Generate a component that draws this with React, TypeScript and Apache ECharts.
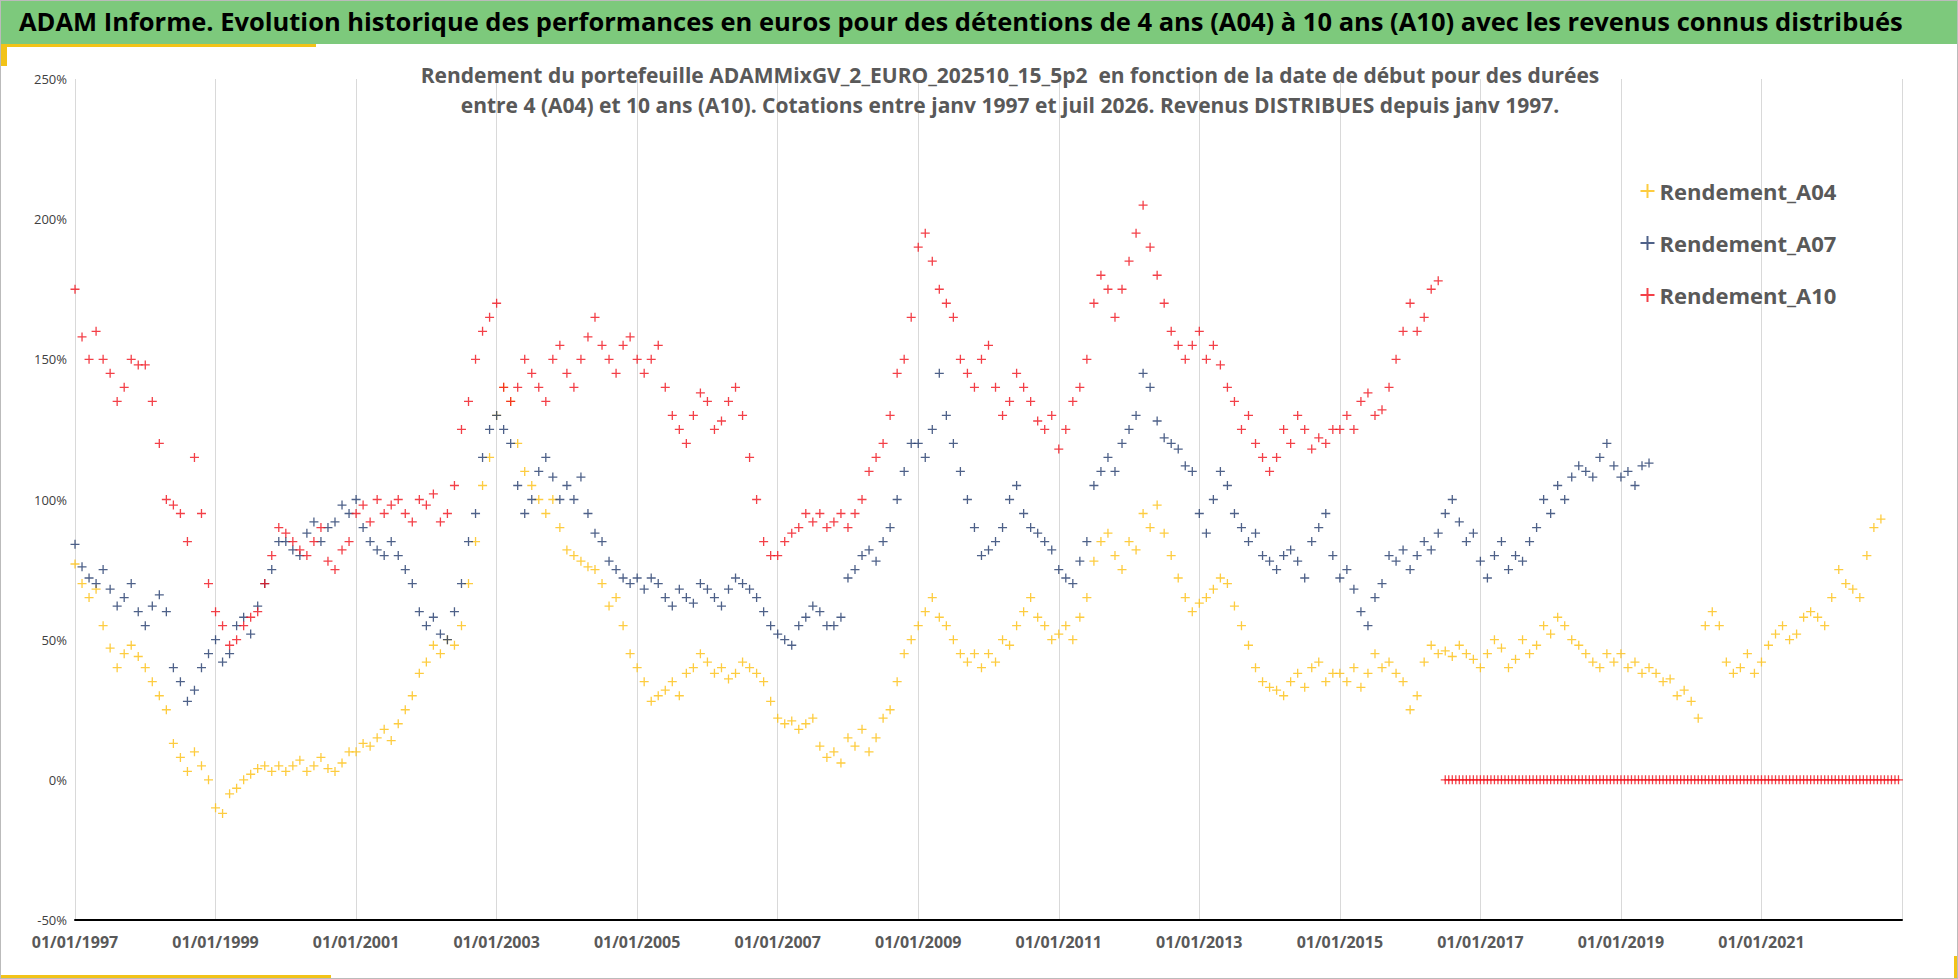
import * as echarts from "echarts";
import { useEffect, useRef } from "react";

// values read every ~0.1 year, starting 01/01/1997
const startA04 = 1997;
const rendementA04 = [
    77, 70, 65, 68, 55, 47, 40, 45, 48, 44,
    40, 35, 30, 25, 13, 8, 3, 10, 5, 0,
    -10, -12, -5, -3, 0, 2, 4, 5, 3, 5,
    3, 5, 7, 3, 5, 8, 4, 3, 6, 10,
    10, 13, 12, 15, 18, 14, 20, 25, 30, 38,
    42, 48, 45, 50, 48, 55, 70, 85, 105, 115,
    130, 140, 135, 120, 110, 105, 100, 95, 100, 90,
    82, 80, 78, 76, 75, 70, 62, 65, 55, 45,
    40, 35, 28, 30, 32, 35, 30, 38, 40, 45,
    42, 38, 40, 36, 38, 42, 40, 38, 35, 28,
    22, 20, 21, 18, 20, 22, 12, 8, 10, 6,
    15, 12, 18, 10, 15, 22, 25, 35, 45, 50,
    55, 60, 65, 58, 55, 50, 45, 42, 45, 40,
    45, 42, 50, 48, 55, 60, 65, 58, 55, 50,
    52, 55, 50, 58, 65, 78, 85, 88, 80, 75,
    85, 82, 95, 90, 98, 88, 80, 72, 65, 60,
    63, 65, 68, 72, 70, 62, 55, 48, 40, 35,
    33, 32, 30, 35, 38, 33, 40, 42, 35, 38,
    38, 35, 40, 33, 38, 45, 40, 42, 38, 35,
    25, 30, 42, 48, 45, 46, 44, 48, 45, 43,
    40, 45, 50, 47, 40, 43, 50, 45, 48, 55,
    52, 58, 55, 50, 48, 45, 42, 40, 45, 42,
    45, 40, 42, 38, 40, 38, 35, 36, 30, 32,
    28, 22, 55, 60, 55, 42, 38, 40, 45, 38,
    42, 48, 52, 55, 50, 52, 58, 60, 58, 55,
    65, 75, 70, 68, 65, 80, 90, 93,
];

const startA07 = 1997;
const rendementA07 = [
    84, 76, 72, 70, 75, 68, 62, 65, 70, 60,
    55, 62, 66, 60, 40, 35, 28, 32, 40, 45,
    50, 42, 45, 55, 58, 52, 62, 70, 75, 85,
    85, 82, 80, 88, 92, 85, 90, 92, 98, 95,
    100, 90, 85, 82, 80, 85, 80, 75, 70, 60,
    55, 58, 52, 50, 60, 70, 85, 95, 115, 125,
    130, 125, 120, 105, 95, 100, 110, 115, 108, 100,
    105, 100, 108, 95, 88, 85, 78, 75, 72, 70,
    72, 68, 72, 70, 65, 62, 68, 65, 63, 70,
    68, 65, 62, 68, 72, 70, 68, 65, 60, 55,
    52, 50, 48, 55, 58, 62, 60, 55, 55, 58,
    72, 75, 80, 82, 78, 85, 90, 100, 110, 120,
    120, 115, 125, 145, 130, 120, 110, 100, 90, 80,
    82, 85, 90, 100, 105, 95, 90, 88, 85, 82,
    75, 72, 70, 78, 85, 105, 110, 115, 110, 120,
    125, 130, 145, 140, 128, 122, 120, 118, 112, 110,
    95, 88, 100, 110, 105, 95, 90, 85, 88, 80,
    78, 75, 80, 82, 78, 72, 85, 90, 95, 80,
    72, 75, 68, 60, 55, 65, 70, 80, 78, 82,
    75, 80, 85, 82, 88, 95, 100, 92, 85, 88,
    78, 72, 80, 85, 75, 80, 78, 85, 90, 100,
    95, 105, 100, 108, 112, 110, 108, 115, 120, 112,
    108, 110, 105, 112, 113,
];

const startA10 = 1997;
const rendementA10 = [
    175, 158, 150, 160, 150, 145, 135, 140, 150, 148,
    148, 135, 120, 100, 98, 95, 85, 115, 95, 70,
    60, 55, 48, 50, 55, 58, 60, 70, 80, 90,
    88, 85, 82, 80, 85, 90, 78, 75, 82, 85,
    95, 98, 92, 100, 95, 98, 100, 95, 92, 100,
    98, 102, 92, 95, 105, 125, 135, 150, 160, 165,
    170, 140, 135, 140, 150, 145, 140, 135, 150, 155,
    145, 140, 150, 158, 165, 155, 150, 145, 155, 158,
    150, 145, 150, 155, 140, 130, 125, 120, 130, 138,
    135, 125, 128, 135, 140, 130, 115, 100, 85, 80,
    80, 85, 88, 90, 95, 92, 95, 90, 92, 95,
    90, 95, 100, 110, 115, 120, 130, 145, 150, 165,
    190, 195, 185, 175, 170, 165, 150, 145, 140, 150,
    155, 140, 130, 135, 145, 140, 135, 128, 125, 130,
    118, 125, 135, 140, 150, 170, 180, 175, 165, 175,
    185, 195, 205, 190, 180, 170, 160, 155, 150, 155,
    160, 150, 155, 148, 140, 135, 125, 130, 120, 115,
    110, 115, 125, 120, 130, 125, 118, 122, 120, 125,
    125, 130, 125, 135, 138, 130, 132, 140, 150, 160,
    170, 160, 165, 175, 178,
];

// A10 values reported as 0 after mid-2016 (no 10-year window yet)
const startA10Zero = 2016.5;
const zerosA10 = new Array(130).fill(0);

const xTicks = [1997, 1999, 2001, 2003, 2005, 2007, 2009, 2011, 2013, 2015, 2017, 2019, 2021];

const toPoints = (start: number, values: number[], step: number) =>
    values.map((v, i) => [start + i * step, v]);

const plus = "path://M5 0V10M0 5H10";

export default function App() {
    const ref = useRef<HTMLDivElement | null>(null);

    useEffect(() => {
        if (!ref.current) return;
        const chart = echarts.init(ref.current, null, { renderer: "svg" });

        const mark = (color: string) => ({
            type: "scatter" as const,
            symbol: plus,
            symbolSize: 9,
            itemStyle: { color: "none", borderColor: color, borderWidth: 1.3 },
        });

        chart.setOption({
            animation: false,
            backgroundColor: "#fff",
            graphic: [
                { type: "rect", shape: { x: 0, y: 0, width: 1958, height: 43 }, style: { fill: "#7dc97c" } },
                { type: "rect", shape: { x: 0, y: 43, width: 315, height: 3 }, style: { fill: "#f2c318" } },
                { type: "rect", shape: { x: 0, y: 43, width: 6, height: 22 }, style: { fill: "#f2c318" } },
                { type: "rect", shape: { x: 0, y: 974, width: 330, height: 5 }, style: { fill: "#f2c318" } },
                { type: "rect", shape: { x: 1953, y: 955, width: 5, height: 24 }, style: { fill: "#f2c318" } },
                {
                    type: "text", left: 18, top: 7,
                    style: {
                        text: "ADAM Informe. Evolution historique des performances en euros pour des détentions de 4 ans (A04) à 10 ans (A10) avec les revenus connus distribués",
                        font: "bold 25.5px 'Open Sans', sans-serif", fill: "#000",
                    },
                },
            ],
            title: {
                text: "Rendement du portefeuille ADAMMixGV_2_EURO_202510_15_5p2  en fonction de la date de début pour des durées\nentre 4 (A04) et 10 ans (A10). Cotations entre janv 1997 et juil 2026. Revenus DISTRIBUES depuis janv 1997.",
                left: 1004, top: 54, textAlign: "center",
                textStyle: { fontFamily: "'Open Sans', sans-serif", fontWeight: "bold", fontSize: 21, color: "#595959", lineHeight: 30, align: "center" },
            },
            legend: {
                orient: "vertical", left: 1632, top: 174, itemGap: 30, itemWidth: 14, itemHeight: 14,
                textStyle: { fontFamily: "'Open Sans', sans-serif", fontWeight: "bold", fontSize: 22, color: "#595959" },
                data: ["Rendement_A04", "Rendement_A07", "Rendement_A10"],
            },
            grid: { left: 74, right: 55, top: 78, bottom: 58 },
            xAxis: {
                type: "value", min: 1997, max: 2023, interval: 2,
                axisLine: { onZero: false, lineStyle: { color: "#000", width: 2 } },
                axisTick: { show: false },
                splitLine: { show: true, lineStyle: { color: "#d9d9d9" } },
                axisLabel: {
                    formatter: (v: number) => (xTicks.includes(v) ? `01/01/${v}` : ""),
                    fontFamily: "'Open Sans', sans-serif", fontWeight: "bold", fontSize: 16, color: "#595959", margin: 14,
                    showMaxLabel: false,
                },
            },
            yAxis: {
                type: "value", min: -50, max: 250, interval: 50,
                axisLine: { show: false },
                axisTick: { show: false },
                splitLine: { show: false },
                axisLabel: { formatter: "{value}%", fontFamily: "'Open Sans', sans-serif", fontSize: 13, color: "#404040" },
            },
            series: [
                { ...mark("#fcbf10"), name: "Rendement_A04", data: toPoints(startA04, rendementA04, 0.1) },
                { ...mark("#22396b"), name: "Rendement_A07", data: toPoints(startA07, rendementA07, 0.1) },
                { ...mark("#f0101a"), name: "Rendement_A10", data: toPoints(startA10, rendementA10, 0.1) },
                { ...mark("#f0101a"), name: "Rendement_A10", data: toPoints(startA10Zero, zerosA10, 0.05) },
            ],
        });

        return () => chart.dispose();
    }, []);

    return (
        <div
            ref={ref}
            style={{ position: "absolute", left: 0, top: 0, width: 1958, height: 979, border: "1px solid #bbb", boxSizing: "border-box" }}
        />
    );
}
